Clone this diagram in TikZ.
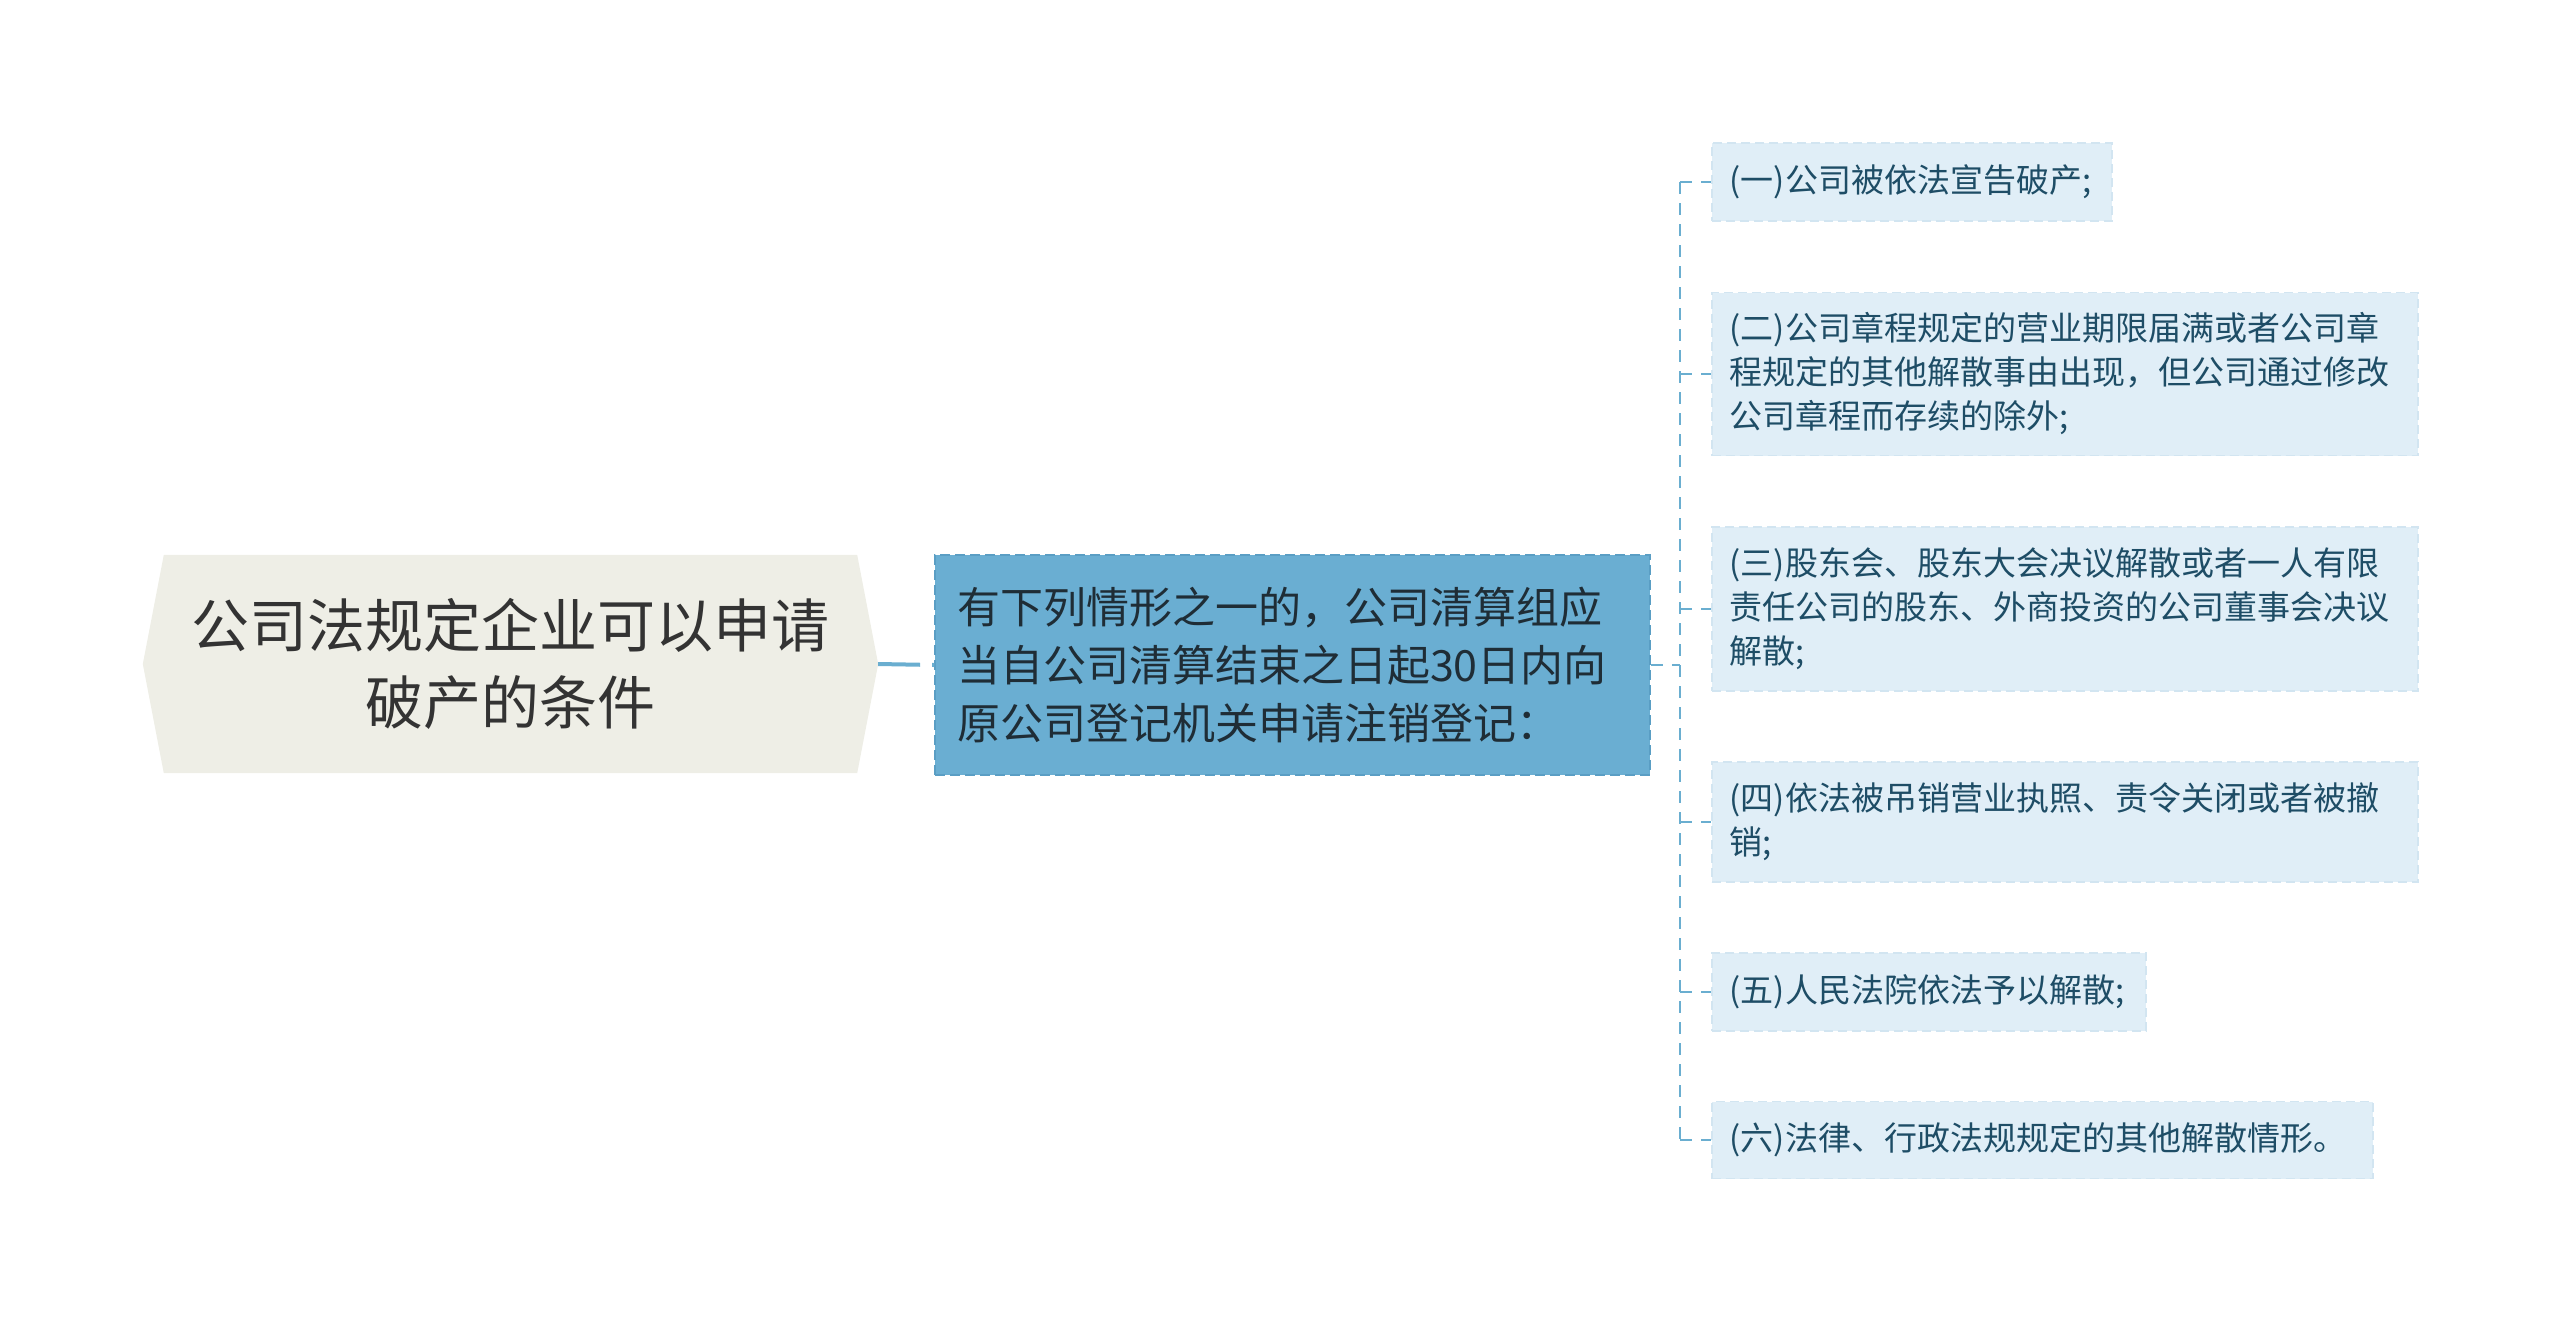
\documentclass[tikz,border=0pt]{standalone}
\usepackage{fontspec}
\setmainfont{Noto Sans CJK SC}
\usetikzlibrary{backgrounds}
\definecolor{rootfill}{HTML}{EEEEE6}
\definecolor{roottext}{HTML}{333333}
\definecolor{midfill}{HTML}{6AAED2}
\definecolor{midborder}{HTML}{5A9EC4}
\definecolor{midtext}{HTML}{1F2D36}
\definecolor{childfill}{HTML}{E0EEF7}
\definecolor{childborder}{HTML}{D2E5F1}
\definecolor{childtext}{HTML}{1E4D66}
\definecolor{linecol}{HTML}{6AAED0}
\tikzset{
  rootnode/.style={inner sep=0pt, align=center, text=roottext,
    font=\fontsize{58pt}{77pt}\selectfont},
  midbox/.style={fill=midfill, draw=midborder, line width=1.5pt,
    dash pattern=on 10pt off 5pt, inner xsep=22pt, inner ysep=0pt,
    align=left, text=midtext, font=\fontsize{43pt}{58pt}\selectfont},
  childbox/.style={fill=childfill, draw=childborder, line width=1.5pt,
    dash pattern=on 9pt off 5pt, anchor=west, inner xsep=18pt, inner ysep=0pt,
    align=left, text=childtext, font=\fontsize{33pt}{44pt}\selectfont},
  mainconn/.style={draw=linecol, line width=4pt, dash pattern=on 42pt off 12pt},
  subconn/.style={draw=linecol, line width=2.5pt, dash pattern=on 12pt off 9pt},
}
\begin{document}
\begin{tikzpicture}[x=1pt,y=-1pt]
\useasboundingbox (0,0) rectangle (2560,1323);
% root
\node[rootnode, minimum width=693pt, minimum height=218pt] (root) at (510.5,664)
  {公司法规定企业可以申请\\破产的条件};
\begin{pgfonlayer}{background}
\fill[rootfill] (root.north west) -- (root.north east) -- ([xshift=21pt]root.east)
  -- (root.south east) -- (root.south west) -- ([xshift=-21pt]root.west) -- cycle;
\end{pgfonlayer}
% middle
\node[midbox, text width=671pt, minimum height=220pt] (mid) at (1292.5,665)
  {有下列情形之一的，公司清算组应\\当自公司清算结束之日起30日内向\\原公司登记机关申请注销登记：};
% children
\node[childbox, text width=364pt, minimum height=78pt] (c1) at (1711,182)
  {(一)公司被依法宣告破产;};
\node[childbox, text width=670pt, minimum height=163pt] (c2) at (1711,374)
  {(二)公司章程规定的营业期限届满或者公司章\\程规定的其他解散事由出现，但公司通过修改\\公司章程而存续的除外;};
\node[childbox, text width=670pt, minimum height=164pt] (c3) at (1711,609)
  {(三)股东会、股东大会决议解散或者一人有限\\责任公司的股东、外商投资的公司董事会决议\\解散;};
\node[childbox, text width=670pt, minimum height=120pt] (c4) at (1711,822)
  {(四)依法被吊销营业执照、责令关闭或者被撤\\销;};
\node[childbox, text width=398pt, minimum height=78pt] (c5) at (1711,992)
  {(五)人民法院依法予以解散;};
\node[childbox, text width=625pt, minimum height=77pt] (c6) at (1711,1140)
  {(六)法律、行政法规规定的其他解散情形。};
% connectors
\draw[mainconn] ([xshift=21pt]root.east) -- (mid.west);
\coordinate (tr) at (1680,665);
\draw[subconn] (mid.east) -- (tr);
\draw[subconn] (tr |- c1.west) -- (tr |- c6.west);
\foreach \c in {c1,c2,c3,c4,c5,c6}{
  \draw[subconn] (tr |- \c.west) -- (\c.west);
}
\end{tikzpicture}
\end{document}
